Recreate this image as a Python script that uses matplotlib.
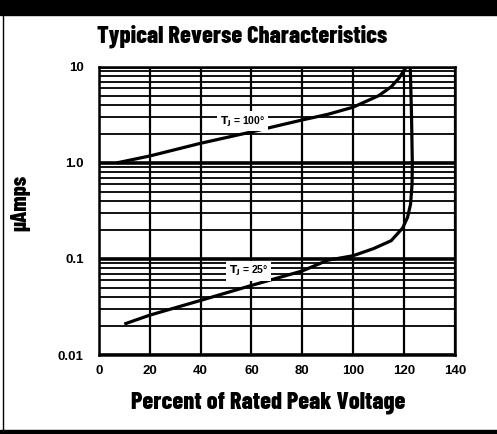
import numpy as np
import matplotlib
matplotlib.use("Agg")
import matplotlib.pyplot as plt
from matplotlib.patches import Rectangle
from matplotlib.ticker import LogLocator, FixedLocator, NullFormatter

# ──────────────────────────────────────────────
# data
pct_100 = [7, 20, 40, 60, 80, 90, 100, 110, 115, 118, 121]
ua_100 = [1.0, 1.18, 1.6, 2.1, 2.8, 3.2, 3.8, 5.0, 6.2, 7.6, 10.0]

pct_25 = [10, 20, 40, 60, 80, 90, 100, 108, 115, 119.5, 121.4, 122.6, 123.2, 123.3, 123.0, 122.5]
ua_25 = [0.021, 0.026, 0.037, 0.053, 0.075, 0.097, 0.108, 0.128, 0.155, 0.21, 0.27, 0.37, 0.6, 1.0, 3.0, 10.0]

x_ticks = [0, 20, 40, 60, 80, 100, 120, 140]
y_ticks = [0.01, 0.1, 1.0, 10.0]
y_tick_labels = ["0.01", "0.1", "1.0", "10"]

NARROW = ["Barlow Condensed", "Roboto Condensed", "DejaVu Sans"]
plt.rcParams["font.family"] = ["Liberation Sans", "DejaVu Sans"]

fig = plt.figure(figsize=(4.97, 4.34), dpi=100)
ax = fig.add_axes([0.199, 0.182, 0.716, 0.664])

ax.set_yscale("log")
ax.set_xlim(0, 140)
ax.set_ylim(0.01, 10)

# grid: major decades thick, minor log lines thinner
ax.yaxis.set_major_locator(FixedLocator(y_ticks))
ax.yaxis.set_minor_locator(LogLocator(base=10, subs=np.arange(2, 10)))
ax.yaxis.set_minor_formatter(NullFormatter())
ax.set_yticks(y_ticks)
ax.set_yticklabels(y_tick_labels)
ax.set_xticks(x_ticks)
ax.grid(which="major", axis="y", color="black", lw=2.6)
ax.grid(which="minor", axis="y", color="black", lw=1.3)
ax.grid(which="major", axis="x", color="black", lw=1.6)
ax.tick_params(which="both", length=0)
ax.tick_params(axis="y", pad=11, labelsize=9.5)
ax.tick_params(axis="x", pad=7, labelsize=9.5)
for lab in ax.get_xticklabels() + ax.get_yticklabels():
    lab.set_fontweight("bold")
for sp in ax.spines.values():
    sp.set_linewidth(1.8)

ax.plot(pct_100, ua_100, color="black", lw=2.3, solid_capstyle="butt", zorder=4)
ax.plot(pct_25, ua_25, color="black", lw=2.3, solid_capstyle="butt", zorder=4)

box = dict(facecolor="white", edgecolor="none", pad=2)
ax.text(56.4, 2.7, r"$\mathbf{T_J}$ = 100°", fontsize=7.5, fontweight="bold",
        ha="center", va="center", bbox=box, zorder=5)
ax.text(58.8, 0.075, r"$\mathbf{T_J}$ = 25°", fontsize=7.5, fontweight="bold",
        ha="center", va="center", bbox=box, zorder=5)

fig.text(0.488, 0.917, "Typical Reverse Characteristics", family=NARROW,
         fontsize=17.5, fontweight=800, ha="center", va="center")
fig.text(0.54, 0.073, "Percent of Rated Peak Voltage", family=NARROW,
         fontsize=17.5, fontweight=800, ha="center", va="center")
fig.text(0.04, 0.532, "µAmps", family=NARROW, fontsize=16, fontweight=800,
         rotation=90, ha="center", va="center")

# scan frame: black bands and left edge
fig.patches.append(Rectangle((0, 0.9654), 1, 0.0346, transform=fig.transFigure,
                             color="black", zorder=0))
fig.patches.append(Rectangle((0, 0), 1, 0.0092, transform=fig.transFigure,
                             color="black", zorder=0))
fig.lines.append(plt.Line2D([0.007, 0.007], [0.0092, 0.9654], transform=fig.transFigure,
                            color="black", lw=1.0))

fig.savefig("out.png", dpi=100)
